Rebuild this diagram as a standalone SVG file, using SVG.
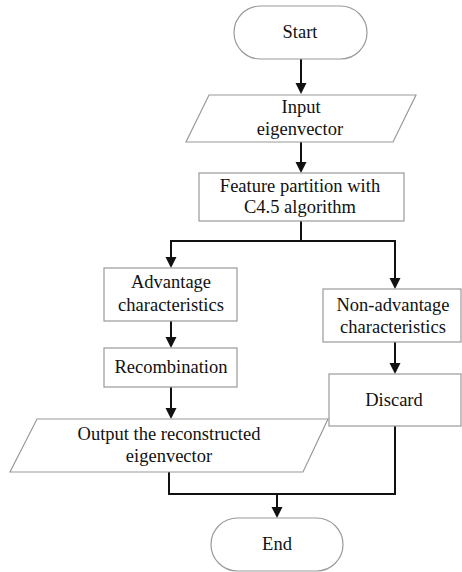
<svg xmlns="http://www.w3.org/2000/svg" width="462" height="572" viewBox="0 0 462 572">
<style>
.n{fill:#fff;stroke:#9a9a9a;stroke-width:1.2}
.t{font-family:"Liberation Serif","Times New Roman",serif;font-size:18.5px;fill:#111;text-anchor:middle}
.c{fill:none;stroke:#111;stroke-width:2}
</style>
<defs>
<marker id="ah" markerUnits="userSpaceOnUse" markerWidth="12" markerHeight="12" refX="9" refY="5.5" orient="auto">
<path d="M0,0 L11,5.5 L0,11 z" fill="#111"/>
</marker>
</defs>
<rect width="462" height="572" fill="#fff"/>
<g id="connectors">
<path class="c" d="M301,59 V92" marker-end="url(#ah)"/>
<path class="c" d="M301,142 V171" marker-end="url(#ah)"/>
<path class="c" d="M301,221 V241 H171 V266" marker-end="url(#ah)"/>
<path class="c" d="M301,241 H395 V287" marker-end="url(#ah)"/>
<path class="c" d="M171,321 V346" marker-end="url(#ah)"/>
<path class="c" d="M171,387 V417" marker-end="url(#ah)"/>
<path class="c" d="M395,342 V372" marker-end="url(#ah)"/>
<path class="c" d="M169,472 V494 H395 V426"/>
<path class="c" d="M277,494 V516" marker-end="url(#ah)"/>
</g>
<g id="start">
<rect class="n" x="234" y="6" width="133" height="53" rx="26.5"/>
<text class="t" x="300" y="38">Start</text>
</g>
<g id="input">
<polygon class="n" points="209,95 416,95 393,142 186,142"/>
<text class="t" x="301" y="113">Input</text>
<text class="t" x="300" y="135">eigenvector</text>
</g>
<g id="partition">
<rect class="n" x="199" y="173" width="205" height="48"/>
<text class="t" x="300" y="192">Feature partition with</text>
<text class="t" x="300" y="213">C4.5 algorithm</text>
</g>
<g id="advantage">
<rect class="n" x="104" y="268" width="133" height="53"/>
<text class="t" x="171" y="288">Advantage</text>
<text class="t" x="171" y="311">characteristics</text>
</g>
<g id="recombination">
<rect class="n" x="104" y="348" width="133" height="39"/>
<text class="t" x="171" y="373">Recombination</text>
</g>
<g id="nonadvantage">
<rect class="n" x="323" y="289" width="138" height="53"/>
<text class="t" x="393" y="311">Non-advantage</text>
<text class="t" x="393" y="333">characteristics</text>
</g>
<g id="discard">
<rect class="n" x="329" y="374" width="132" height="52"/>
<text class="t" x="394" y="406">Discard</text>
</g>
<g id="output">
<polygon class="n" points="37,419 328,419 303,472 10,472"/>
<text class="t" x="169" y="440">Output the reconstructed</text>
<text class="t" x="169" y="462">eigenvector</text>
</g>
<g id="end">
<rect class="n" x="211" y="518" width="132" height="53" rx="26.5"/>
<text class="t" x="277" y="550">End</text>
</g>
</svg>
